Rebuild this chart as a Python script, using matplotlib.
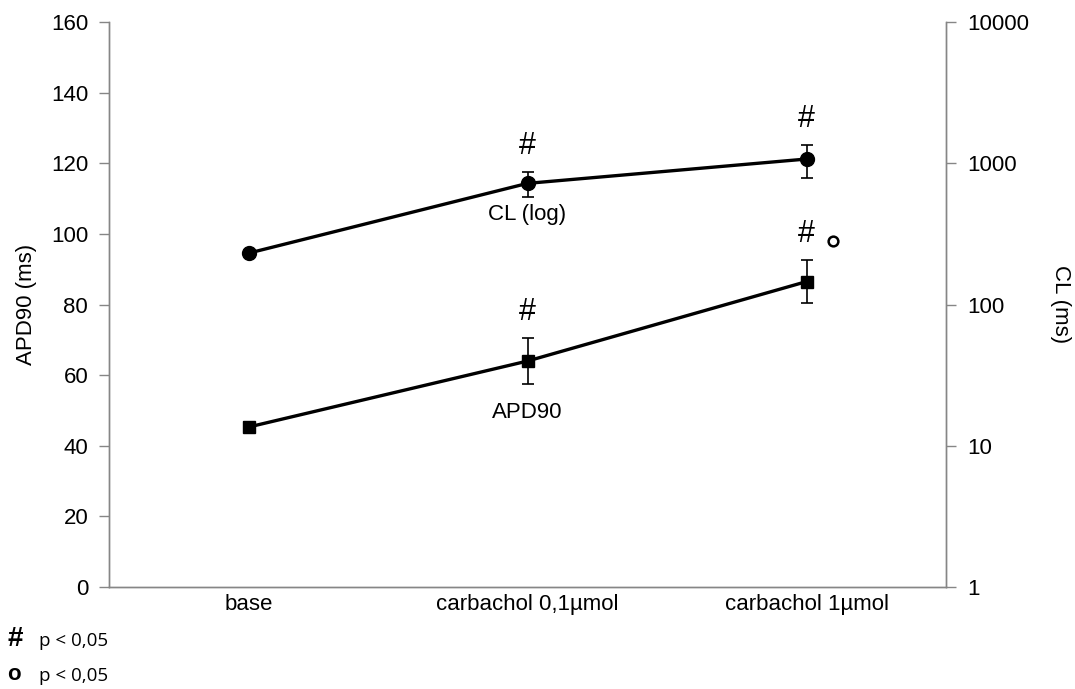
import matplotlib
matplotlib.use("Agg")
import matplotlib.pyplot as plt
import numpy as np

plt.rcParams["font.family"] = ["Liberation Sans", "DejaVu Sans"]

categories = ["base", "carbachol 0,1µmol", "carbachol 1µmol"]
apd90 = [45.3, 64.0, 86.5]
apd90_err = [1.5, 6.6, 6.1]
cl = [231, 721, 1072]
cl_err = [0, 147, 280]
apd_marks = ["", "#", "#"]
cl_marks = ["", "#", "#"]

AXIS_GRAY = "#868686"
FS = 16

fig = plt.figure(figsize=(10.75, 6.89), dpi=100)
ax = fig.add_axes([0.1014, 0.148, 0.7786, 0.82])
ax2 = ax.twinx()

x = np.arange(len(categories))

ax.errorbar(x, apd90, yerr=apd90_err, color="black", lw=2.4, marker="s",
            markersize=9, capsize=4, elinewidth=1.2, capthick=1.2, zorder=3)
ax2.errorbar(x, cl, yerr=cl_err, color="black", lw=2.4, marker="o",
             markersize=10, capsize=4, elinewidth=1.2, capthick=1.2, zorder=3)

ax.set_xlim(-0.5, 2.5)
ax.set_ylim(0, 160)
ax.set_yticks(range(0, 161, 20))
ax2.set_yscale("log")
ax2.set_ylim(1, 10000)
ax2.set_yticks([1, 10, 100, 1000, 10000])
ax2.set_yticklabels(["1", "10", "100", "1000", "10000"])
ax2.minorticks_off()

ax.set_xticks(x)
ax.set_xticklabels(categories)

for a in (ax, ax2):
    a.spines["top"].set_visible(False)
    for s in ("left", "right", "bottom"):
        a.spines[s].set_color(AXIS_GRAY)
        a.spines[s].set_linewidth(1.0)
    a.tick_params(axis="y", colors=AXIS_GRAY, labelcolor="black",
                  labelsize=FS, length=7, width=1.0, pad=8)
ax.tick_params(axis="x", length=0, labelsize=FS, pad=5)

ax.set_ylabel("APD90 (ms)", fontsize=FS, labelpad=10)
ax2.set_ylabel("CL (ms)", fontsize=FS, rotation=270, labelpad=30)

# significance marks
for i in range(len(categories)):
    if apd_marks[i]:
        ax.annotate(apd_marks[i], (x[i], apd90[i] + apd90_err[i]), xytext=(0, 8),
                    textcoords="offset points", ha="center", va="bottom", fontsize=22)
    if cl_marks[i]:
        ax2.annotate(cl_marks[i], (x[i], cl[i] + cl_err[i]), xytext=(0, 8),
                     textcoords="offset points", ha="center", va="bottom", fontsize=22)

# small ring next to the last APD90 mark
ax.plot([x[2]], [apd90[2] + apd90_err[2]], marker="o", markersize=7,
        markerfacecolor="white", markeredgecolor="black", markeredgewidth=1.8,
        transform=ax.transData + matplotlib.transforms.ScaledTranslation(
            19 / 72, 14 / 72, fig.dpi_scale_trans),
        clip_on=False, linestyle="none")

ax2.annotate("CL (log)", (x[1], cl[1] - cl_err[1]), xytext=(0, -5),
             textcoords="offset points", ha="center", va="top", fontsize=FS)
ax.annotate("APD90", (x[1], apd90[1] - apd90_err[1]), xytext=(0, -13),
            textcoords="offset points", ha="center", va="top", fontsize=FS)

# footnote legend
fig.text(0.007, 0.072, "#", fontsize=20, fontweight="bold", va="center")
fig.text(0.036, 0.069, "p < 0,05", fontsize=13.5, va="center", family=["Open Sans", "DejaVu Sans"])
fig.text(0.007, 0.021, "o", fontsize=16, fontweight="bold", va="center")
fig.text(0.036, 0.019, "p < 0,05", fontsize=13.5, va="center", family=["Open Sans", "DejaVu Sans"])

fig.savefig("out.png", dpi=100)
